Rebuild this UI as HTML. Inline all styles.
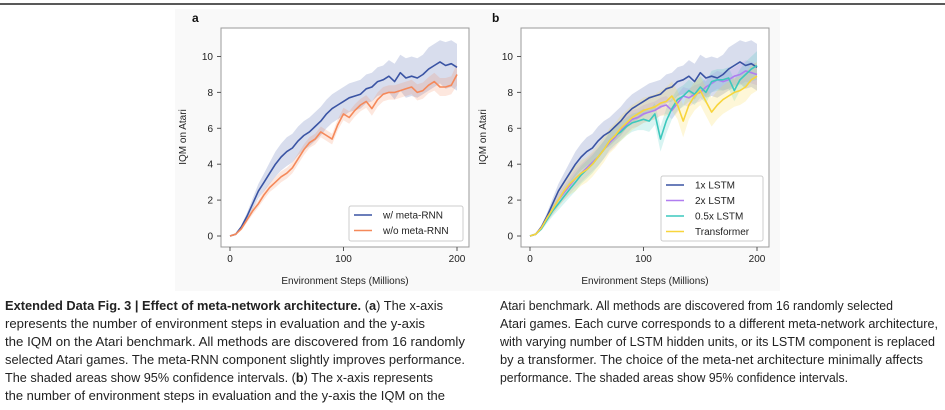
<!DOCTYPE html>
<html><head><meta charset="utf-8">
<style>
html,body{margin:0;padding:0;background:#fff;}
svg{display:block;font-family:"Liberation Sans",sans-serif;}
</style></head>
<body>
<svg id="fig" width="945" height="410" viewBox="0 0 945 410" xmlns="http://www.w3.org/2000/svg">
<rect x="0" y="0" width="945" height="410" fill="#fff"/>
<line x1="0" y1="4" x2="945" y2="4" stroke="#222" stroke-width="1.5"/>
<rect x="175" y="9" width="605" height="282" fill="#f9f9f9"/>
<g id="pa"></g>
<g id="pb"></g>
<g font-family="Liberation Sans, sans-serif" font-size="12.6" fill="#222">
<text x="5" y="310" textLength="438" lengthAdjust="spacingAndGlyphs"><tspan font-weight="bold">Extended Data Fig. 3 | Effect of meta-network architecture.</tspan> (<tspan font-weight="bold">a</tspan>) The x-axis</text>
<text x="5" y="328" textLength="420" lengthAdjust="spacingAndGlyphs">represents the number of environment steps in evaluation and the y-axis</text>
<text x="5" y="346" textLength="460" lengthAdjust="spacingAndGlyphs">the IQM on the Atari benchmark. All methods are discovered from 16 randomly</text>
<text x="5" y="364" textLength="460" lengthAdjust="spacingAndGlyphs">selected Atari games. The meta-RNN component slightly improves performance.</text>
<text x="5" y="382" textLength="428" lengthAdjust="spacingAndGlyphs">The shaded areas show 95% confidence intervals. (<tspan font-weight="bold">b</tspan>) The x-axis represents</text>
<text x="5" y="400" textLength="440" lengthAdjust="spacingAndGlyphs">the number of environment steps in evaluation and the y-axis the IQM on the</text>
<text x="500" y="310" textLength="393" lengthAdjust="spacingAndGlyphs">Atari benchmark. All methods are discovered from 16 randomly selected</text>
<text x="500" y="328" textLength="438" lengthAdjust="spacingAndGlyphs">Atari games. Each curve corresponds to a different meta-network architecture,</text>
<text x="500" y="346" textLength="435" lengthAdjust="spacingAndGlyphs">with varying number of LSTM hidden units, or its LSTM component is replaced</text>
<text x="500" y="364" textLength="423" lengthAdjust="spacingAndGlyphs">by a transformer. The choice of the meta-net architecture minimally affects</text>
<text x="500" y="382" textLength="348" lengthAdjust="spacingAndGlyphs">performance. The shaded areas show 95% confidence intervals.</text>
</g>
</svg>
<script>
const steps = [0,5,10,15,20,25,30,35,40,45,50,55,60,65,70,75,80,85,90,95,100,105,110,115,120,125,130,135,140,145,150,155,160,165,170,175,180,185,190,195,200];
const xTicks = [0,100,200];
const yTicks = [0,2,4,6,8,10];
const blueVals = [0,0.1,0.5,1.1,1.8,2.5,3.0,3.5,4.0,4.4,4.7,4.9,5.3,5.6,5.8,6.1,6.4,6.8,7.1,7.3,7.5,7.7,7.8,7.9,8.2,8.3,8.6,8.7,8.9,8.6,9.1,8.8,8.9,8.8,9.0,9.3,9.5,9.7,9.5,9.6,9.4];
const blueErr = [0,0.05,0.1,0.2,0.3,0.4,0.5,0.6,0.7,0.75,0.8,0.8,0.8,0.8,0.8,0.8,0.8,0.8,0.8,0.8,0.8,0.8,0.8,0.8,0.8,0.8,0.8,0.8,0.9,1.0,1.0,1.1,1.1,1.1,1.1,1.2,1.2,1.2,1.3,1.3,1.3];
const orangeVals = [0,0.1,0.4,0.9,1.4,1.8,2.3,2.7,3.0,3.3,3.5,3.8,4.3,4.8,5.2,5.4,5.8,5.6,5.4,6.2,6.8,6.6,7.0,7.3,7.5,7.1,7.6,7.9,8.0,8.0,8.1,8.2,8.3,8.0,8.1,8.4,8.6,8.3,8.3,8.4,9.0];
const orangeErr = [0,0.05,0.1,0.15,0.2,0.2,0.25,0.25,0.3,0.3,0.3,0.3,0.3,0.3,0.3,0.3,0.3,0.3,0.3,0.3,0.35,0.35,0.35,0.35,0.35,0.4,0.4,0.4,0.4,0.4,0.4,0.4,0.4,0.45,0.45,0.45,0.5,0.5,0.5,0.5,0.6];
const purpleVals = [0,0.1,0.45,1.0,1.5,2.0,2.4,2.8,3.2,3.5,3.8,4.1,4.4,4.8,5.2,5.5,5.9,6.2,6.5,6.6,6.8,6.9,7.0,7.2,7.3,7.0,7.4,7.8,7.7,7.9,8.0,8.3,8.5,8.7,8.6,8.7,8.9,9.0,9.2,9.1,9.0];
const purpleErr = [0,0.05,0.1,0.2,0.3,0.35,0.4,0.45,0.5,0.5,0.5,0.5,0.5,0.5,0.5,0.5,0.5,0.5,0.5,0.5,0.5,0.5,0.5,0.5,0.5,0.5,0.5,0.5,0.5,0.5,0.5,0.5,0.5,0.5,0.5,0.5,0.5,0.6,0.6,0.6,0.6];
const tealVals = [0,0.1,0.4,0.9,1.4,1.8,2.2,2.6,3.0,3.4,3.7,4.0,4.4,4.8,5.3,5.6,5.8,6.1,6.3,6.4,6.5,6.4,6.8,5.4,6.4,7.1,7.6,7.8,8.1,7.9,8.3,8.0,8.6,8.7,8.7,8.8,8.1,8.7,9.0,9.3,9.5];
const tealErr = [0,0.05,0.1,0.2,0.3,0.35,0.4,0.45,0.5,0.5,0.5,0.5,0.5,0.5,0.5,0.5,0.5,0.5,0.5,0.5,0.6,0.6,0.6,0.7,0.7,0.6,0.6,0.6,0.6,0.6,0.6,0.6,0.6,0.6,0.6,0.6,0.6,0.6,0.7,0.7,0.8];
const yellowVals = [0,0.1,0.45,1.0,1.5,2.0,2.5,2.9,3.2,3.5,3.7,4.0,4.4,4.8,5.3,5.6,6.0,6.3,6.6,6.8,7.0,7.1,7.2,7.4,7.5,7.8,7.3,6.4,7.3,7.8,8.1,7.5,6.9,7.3,7.6,7.8,8.0,8.1,8.3,8.7,8.9];
const yellowErr = [0,0.05,0.1,0.2,0.3,0.4,0.5,0.6,0.7,0.7,0.7,0.7,0.7,0.7,0.7,0.7,0.7,0.7,0.7,0.7,0.7,0.7,0.7,0.7,0.8,0.8,0.8,0.9,0.8,0.8,0.8,0.8,0.8,0.8,0.8,0.8,0.8,0.8,0.8,0.8,0.8];
const legendA = ["w/ meta-RNN","w/o meta-RNN"];
const legendB = ["1x LSTM","2x LSTM","0.5x LSTM","Transformer"];

const NS = "http://www.w3.org/2000/svg";
function mk(parent, tag, attrs, txt){
  const e = document.createElementNS(NS, tag);
  for (const k in attrs) e.setAttribute(k, attrs[k]);
  if (txt !== undefined) e.textContent = txt;
  parent.appendChild(e);
  return e;
}
function panel(g, ox, label, series, legendNames, legY){
  const fx0 = ox - 9, fx1 = ox + 239, fy0 = 28, fy1 = 247;
  const xs = v => ox + v / 200 * 227;
  const ys = v => 236 - v * 17.95;
  const bg = mk(g, "rect", {x:fx0, y:fy0, width:fx1-fx0, height:fy1-fy0, fill:"#fff"});
  
  
  series.forEach(s => {
    let d = "";
    steps.forEach((t,i)=>{ d += (i?"L":"M") + xs(t).toFixed(1) + "," + ys(s.vals[i]+s.err[i]).toFixed(1); });
    for (let i = steps.length-1; i >= 0; i--) d += "L" + xs(steps[i]).toFixed(1) + "," + ys(s.vals[i]-s.err[i]).toFixed(1);
    const band = mk(g, "path", {d: d + "Z", fill: s.color, "fill-opacity": 0.2, stroke:"none"});
    
    
  });
  series.forEach(s => {
    const pts = steps.map((t,i)=> xs(t).toFixed(1) + "," + ys(s.vals[i]).toFixed(1)).join(" ");
    const line = mk(g, "polyline", {points: pts, fill:"none", stroke: s.color, "stroke-width": 1.6, "stroke-linejoin":"round"});
    
    
  });
  const frame = mk(g, "rect", {x:fx0, y:fy0, width:fx1-fx0, height:fy1-fy0, fill:"none", stroke:"#9a9a9a", "stroke-width":1});
  
  
  xTicks.forEach(t => {
    mk(g, "line", {x1:xs(t), y1:fy1, x2:xs(t), y2:fy1+4, stroke:"#555", "stroke-width":1});
    const tl = mk(g, "text", {x:xs(t), y:fy1+15, "font-size":10, "text-anchor":"middle", fill:"#222"}, String(t));
    
    
  });
  yTicks.forEach(t => {
    mk(g, "line", {x1:fx0-4, y1:ys(t), x2:fx0, y2:ys(t), stroke:"#555", "stroke-width":1});
    const tl = mk(g, "text", {x:fx0-8, y:ys(t)+3.5, "font-size":10, "text-anchor":"end", fill:"#222"}, String(t));
    
    
  });
  const xt = mk(g, "text", {x:(fx0+fx1)/2, y:284, "font-size":10, "text-anchor":"middle", fill:"#222"}, "Environment Steps (Millions)");
  
  
  const yt = mk(g, "text", {x:0, y:0, "font-size":10, "text-anchor":"middle", fill:"#222", transform:"translate(" + (ox-44) + ",137) rotate(-90)"}, "IQM on Atari");
  
  
  const pl = mk(g, "text", {x:ox-38, y:22, "font-size":12, "font-weight":"bold", fill:"#111"}, label);
  
  
  const lx0 = legendNames.length > 2 ? ox + 131 : ox + 119;
  const lg = mk(g, "g", {});
  
  
  mk(lg, "rect", {x:lx0, y:legY, width:fx1-6-lx0, height:241-legY, fill:"#fff", stroke:"#ccc", "stroke-width":1, rx:2});
  legendNames.forEach((n,i) => {
    const cy = legY + 9 + i*15.5;
    const le = mk(lg, "g", {});
    
    
    mk(le, "line", {x1:lx0+5, y1:cy, x2:lx0+23, y2:cy, stroke:series[i].color, "stroke-width":1.6});
    mk(le, "text", {x:lx0+34, y:cy+3.5, "font-size":10, fill:"#222"}, n);
  });
}
panel(document.getElementById("pa"), 230, "a", [
  {name:"w-meta-rnn", vals:blueVals, err:blueErr, color:"#3a54a4"},
  {name:"wo-meta-rnn", vals:orangeVals, err:orangeErr, color:"#f5895a"}
], legendA, 206);
panel(document.getElementById("pb"), 530, "b", [
  {name:"lstm-1x", vals:blueVals, err:blueErr, color:"#3a54a4"},
  {name:"lstm-2x", vals:purpleVals, err:purpleErr, color:"#b07df0"},
  {name:"lstm-0-5x", vals:tealVals, err:tealErr, color:"#3cc8bd"},
  {name:"transformer", vals:yellowVals, err:yellowErr, color:"#f8d53c"}
], legendB, 176);
</script>
</body></html>
